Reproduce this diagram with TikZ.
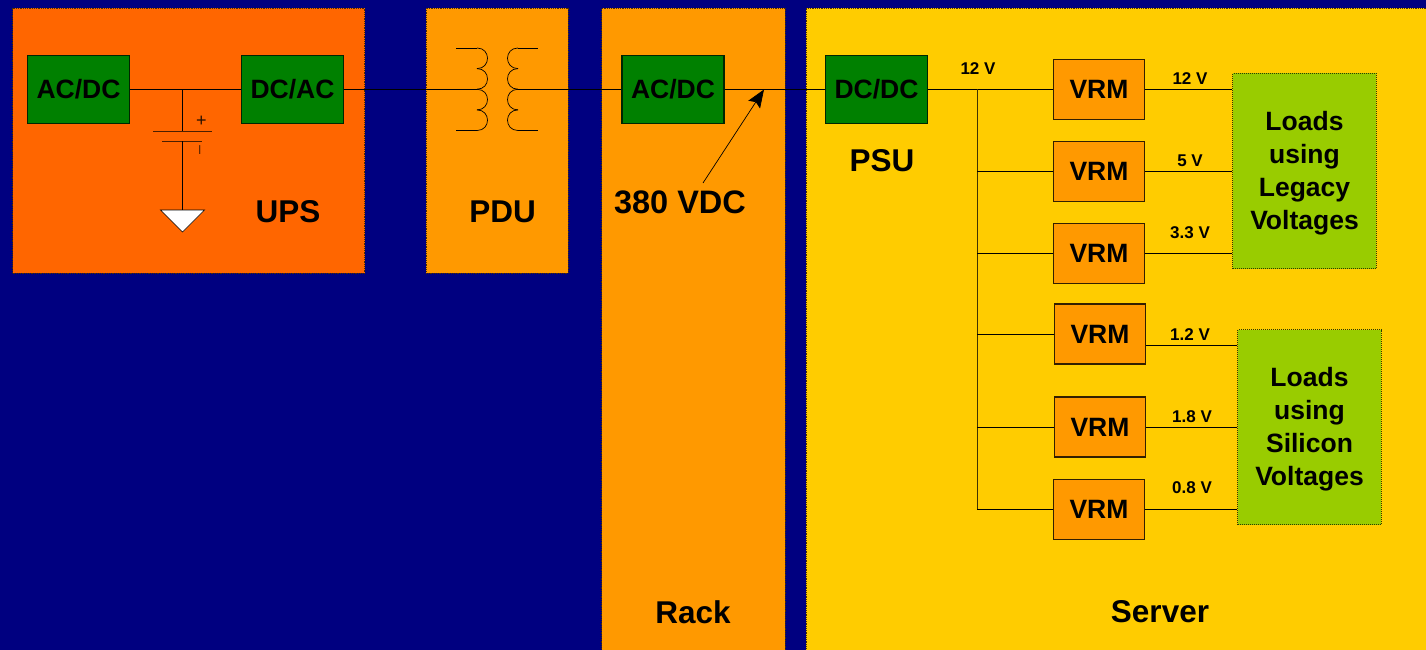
\documentclass[tikz,border=0pt]{standalone}
\usepackage{fontspec}
\setmainfont{Liberation Sans}
\usepackage{xcolor}
\usetikzlibrary{arrows.meta}
\definecolor{navy}{HTML}{000080}
\definecolor{upsorange}{HTML}{FF6600}
\definecolor{vrmorange}{HTML}{FF9900}
\definecolor{serveryellow}{HTML}{FFCC00}
\definecolor{convgreen}{HTML}{008000}
\definecolor{loadgreen}{HTML}{99CC00}

\begin{document}
\begin{tikzpicture}[x=1pt, y=-1pt, node distance=82pt,
        panel/.style={rectangle, anchor=north west, inner sep=0pt, outer sep=0pt, draw=black!70!vrmorange, line width=0.8pt, densely dotted},
        conv/.style={draw=black!70!convgreen, rectangle, fill=convgreen, line width=1.2pt, minimum width=102pt, minimum height=68pt, inner sep=0pt, font=\fontsize{26.5}{30}\bfseries},
        vrm/.style={draw=black!80!vrmorange, rectangle, fill=vrmorange, line width=1.2pt, minimum width=91pt, minimum height=60pt, inner sep=0pt, font=\fontsize{26.5}{30}\bfseries},
        load/.style={rectangle, fill=loadgreen, draw=black!70!loadgreen, line width=1pt, densely dotted, minimum width=143.5pt, minimum height=195pt, inner sep=0pt, align=center, font=\fontsize{26.5}{33}\bfseries},
        title/.style={inner sep=0pt, font=\fontsize{31.5}{36}\bfseries},
        volt/.style={inner sep=0pt, font=\fontsize{17}{20}\bfseries},
        wire/.style={draw=black, line width=0.9pt},
        thinwire/.style={draw=black, line width=0.7pt}]
        \useasboundingbox (0,0) rectangle (1426,650);
        \fill[navy] (0,0) rectangle (1426,650);
        % panels
        \node[panel, fill=upsorange, minimum width=352pt, minimum height=265pt] (ups) at (12.5,8) {};
        \node[panel, fill=vrmorange, minimum width=142pt, minimum height=265pt] (pdu) at (426,8) {};
        \node[panel, fill=vrmorange, minimum width=183.5pt, minimum height=642pt] (rack) at (601.5,8) {};
        \node[panel, fill=serveryellow, minimum width=620pt, minimum height=642pt] (server) at (806,8) {};
        \node[title] (upstitle) at (288,212) {UPS};
        \node[title] (pdutitle) at (502.5,212) {PDU};
        \node[title] (racktitle) at (693,612) {Rack};
        \node[title] (servertitle) at (1160,612) {Server};
        \node[title] (psutitle) at (882,161) {PSU};
        \node[title, font=\fontsize{32.5}{36}\bfseries] (vdc) at (680,202.5) {380 VDC};
        % converters
        \node[conv] (acdc1) at (78.5,89.5) {AC/DC};
        \node[conv] (dcac) at (292.5,89.5) {DC/AC};
        \node[conv] (acdc2) at (673,89.5) {AC/DC};
        \node[conv] (dcdc) at (876.5,89.5) {DC/DC};
        % regulators
        \node[vrm] (vrm1) at (1099,89.5) {VRM};
        \node[vrm] (vrm2) [below of=vrm1] {VRM};
        \node[vrm] (vrm3) [below of=vrm2] {VRM};
        \node[vrm] (vrm4) at (1100,334) {VRM};
        \node[vrm] (vrm5) at (1100,427) {VRM};
        \node[vrm] (vrm6) at (1099,509.5) {VRM};
        % loads
        \node[load] (loads1) at (1304.5,171) {\rule{0pt}{24pt}Loads\\using\\Legacy\\Voltages};
        \node[load] (loads2) at (1309.5,427) {\rule{0pt}{24pt}Loads\\using\\Silicon\\Voltages};
        % battery
        \coordinate (tap) at (182.5,89.5);
        \coordinate (plus1) at (153,131);
        \coordinate (plus2) at (212,131);
        \coordinate (minus1) at (162,141);
        \coordinate (minus2) at (202,141);
        \coordinate (gnd) at (182.5,210);
        \draw[wire] (acdc1) -- (dcac);
        \draw[wire] (tap) -- (tap |- plus1);
        \draw[wire, black!70!upsorange] (plus1) -- (plus2);
        \draw[wire, black!70!upsorange] (minus1) -- (minus2);
        \draw[wire] (tap |- minus1) -- (gnd);
        \draw[black, fill=white, line width=0.7pt] (gnd) -- (160.5,210) -- (182.5,232) -- (204.5,210) -- cycle;
        \node[inner sep=0pt, text=black!85!upsorange, font=\fontsize{18}{18}\selectfont] (plussign) at (201.5,121.5) {+};
        \node[inner sep=0pt, rotate=90, text=black!70!upsorange, font=\fontsize{16}{16}\selectfont] (minussign) at (201.5,150.5) {--};
        % transformer
        \coordinate (coilin) at (477,89.5);
        \coordinate (coilout) at (518,89.5);
        \draw[wire] (dcac) -- (coilin);
        \draw[wire] (coilout) -- (acdc2);
        \draw[thinwire] (456,48) -- (477,48);
        \draw[thinwire] (456,130.5) -- (477,130.5);
        \draw[thinwire] (518,48) -- (538,48);
        \draw[thinwire] (518,130.5) -- (538,130.5);
        \foreach \y in {48,68.6,89.3,109.9} {
            \draw[thinwire] (477,\y) .. controls (491,\y) and (491,\y+20.6) .. (477,\y+20.6);
            \draw[thinwire] (518,\y) .. controls (504,\y) and (504,\y+20.6) .. (518,\y+20.6);
        }
        % 380 V bus
        \draw[wire] (acdc2) -- (dcdc);
        \coordinate (arrowtail) at (703,183);
        \coordinate (arrowhead) at (764,89.5);
        \draw[-{Stealth[length=18pt,width=14pt,inset=3pt]}, black, line width=0.7pt] (arrowtail) -- (arrowhead);
        % 12 V bus
        \coordinate (bus) at (977,89.5);
        \draw[wire] (dcdc) -- (vrm1);
        \draw[wire, black!75!serveryellow] (bus) -- (bus |- vrm6.west);
        \draw[wire] (bus |- vrm2.west) -- (vrm2);
        \draw[wire] (bus |- vrm3.west) -- (vrm3);
        \draw[wire] (bus |- vrm4.west) -- (vrm4);
        \draw[wire] (bus |- vrm5.west) -- (vrm5);
        \draw[wire] (bus |- vrm6.west) -- (vrm6);
        \coordinate (out4) at (1145.5,345.5);
        \draw[wire] (vrm1) -- (vrm1 -| loads1.west);
        \draw[wire] (vrm2) -- (vrm2 -| loads1.west);
        \draw[wire] (vrm3) -- (vrm3 -| loads1.west);
        \draw[wire] (out4) -- (out4 -| loads2.west);
        \draw[wire] (vrm5) -- (vrm5 -| loads2.west);
        \draw[wire] (vrm6) -- (vrm6 -| loads2.west);
        % voltages
        \node[volt] (v0) at (978,69) {12 V};
        \node[volt] (v1) at (1190,79) {12 V};
        \node[volt] (v2) at (1190,161) {5 V};
        \node[volt] (v3) at (1190,233) {3.3 V};
        \node[volt] (v4) at (1190,335) {1.2 V};
        \node[volt] (v5) at (1192,417) {1.8 V};
        \node[volt] (v6) at (1192,488) {0.8 V};
    \end{tikzpicture}
\end{document}
